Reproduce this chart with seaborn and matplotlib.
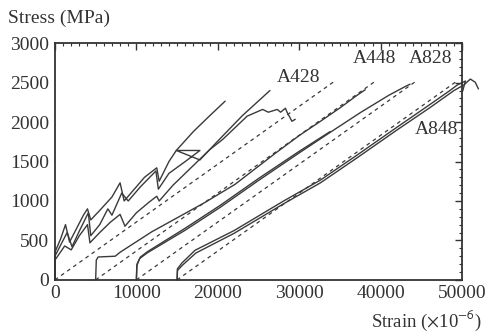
import numpy as np
import pandas as pd
import matplotlib
matplotlib.use("Agg")
import matplotlib.pyplot as plt
import seaborn as sns
from matplotlib.ticker import MultipleLocator

# strain (x1e-6) / stress (MPa)
a1_x = [0, 0, 700, 1300, 1800, 2600, 3500, 4000, 4400, 5500, 7000, 8000, 8500, 9500, 11000, 12500, 12800, 14000, 14900, 17000, 19000, 20900]
a1_y = [0, 350, 520, 700, 480, 640, 820, 900, 760, 880, 1050, 1230, 1000, 1120, 1300, 1420, 1250, 1500, 1640, 1880, 2080, 2265]

a2_x = [0, 0, 900, 1500, 2100, 3000, 4100, 4400, 5500, 6500, 7000, 8200, 9000, 10500, 12400, 12700, 14000, 16000, 17800, 14900, 17800, 20000, 23000, 26400]
a2_y = [0, 300, 480, 600, 420, 620, 850, 560, 700, 900, 820, 1100, 1000, 1180, 1380, 1150, 1350, 1500, 1640, 1640, 1520, 1760, 2080, 2400]

a3_x = [0, 0, 1200, 2000, 3000, 4000, 4300, 5500, 6800, 8000, 8600, 10000, 11500, 12500, 12800, 14500, 16500, 19000, 20600, 23600, 25500, 26200, 27300, 27700, 28300, 28500, 29100, 29500]
a3_y = [0, 250, 430, 380, 560, 700, 470, 600, 730, 830, 680, 850, 980, 1060, 1000, 1200, 1400, 1650, 1780, 2075, 2160, 2125, 2160, 2125, 2175, 2125, 2010, 2035]

b_x = [5000, 5080, 5300, 7400, 8000, 11900, 18400, 22100, 27000, 30000, 32600, 35000, 37100, 38100]
b_y = [0, 250, 290, 300, 350, 610, 980, 1210, 1600, 1830, 2010, 2180, 2340, 2410]

c1_x = [10000, 10050, 10400, 11300, 16000, 20300, 25000, 30000, 33800, 37500, 41000, 43000, 43600]
c1_y = [0, 180, 270, 340, 630, 920, 1260, 1610, 1870, 2120, 2340, 2450, 2480]
c2_x = [10000, 10080, 10500, 11400, 16000, 20300, 25000, 30000, 33800]
c2_y = [0, 200, 290, 360, 655, 945, 1285, 1630, 1880]

d1_x = [15000, 15040, 15600, 17200, 22000, 28000, 32600, 37000, 42000, 46000, 48500, 49400, 50000, 50400, 50050]
d1_y = [0, 140, 215, 375, 625, 995, 1265, 1575, 1935, 2220, 2400, 2470, 2500, 2520, 2390]
d2_x = [15000, 15050, 15700, 17300, 22000, 28000, 32600, 37000, 42000, 46000, 49000, 50200, 51000, 51600, 52000]
d2_y = [0, 120, 190, 340, 590, 960, 1230, 1540, 1900, 2180, 2400, 2470, 2545, 2505, 2420]

# reference (dashed) lines
ref_start = [0, 5000, 10000, 15000]
ref_len = 34500
ref_top = 2530

labels = ["A428", "A448", "A828", "A848"]
label_x = [27200, 36600, 43400, 44200]
label_y = [2560, 2800, 2800, 1910]

line_col = "#3a3a3a"
sns.set_style("white")
plt.rcParams["font.family"] = ["Liberation Serif", "DejaVu Serif"]
plt.rcParams["font.size"] = 14
plt.rcParams["mathtext.fontset"] = "stix"

fig = plt.figure(figsize=(4.86, 3.32), dpi=100)
ax = fig.add_axes([0.113, 0.157, 0.838, 0.713])

curves = [(a1_x, a1_y), (a2_x, a2_y), (a3_x, a3_y), (b_x, b_y),
          (c1_x, c1_y), (c2_x, c2_y), (d1_x, d1_y), (d2_x, d2_y)]
for cx, cy in curves:
    df = pd.DataFrame({"strain": cx, "stress": cy})
    sns.lineplot(data=df, x="strain", y="stress", sort=False, estimator=None,
                 color=line_col, lw=1.0, ax=ax, clip_on=False)

for s in ref_start:
    df = pd.DataFrame({"strain": [s, s + ref_len], "stress": [0, ref_top]})
    sns.lineplot(data=df, x="strain", y="stress", color=line_col, lw=0.9,
                 ls=(0, (3, 3)), ax=ax)

for t, x, y in zip(labels, label_x, label_y):
    ax.text(x, y, t, ha="left", va="center", fontsize=14, color="#333333")

ax.set_xlim(0, 50000)
ax.set_ylim(0, 3000)
ax.xaxis.set_major_locator(MultipleLocator(10000))
ax.xaxis.set_minor_locator(MultipleLocator(1000))
ax.yaxis.set_major_locator(MultipleLocator(500))
ax.yaxis.set_minor_locator(MultipleLocator(100))
ax.tick_params(which="both", direction="in", top=True, right=True, colors="#333333",
               labelsize=14, pad=4)
ax.tick_params(which="major", length=5, width=1)
ax.tick_params(which="minor", length=2.5, width=0.8)
for sp in ax.spines.values():
    sp.set_color("#333333")
    sp.set_linewidth(1.3)
ax.set_xlabel("")
ax.set_ylabel("")

fig.text(8 / 486, 1 - 18 / 332, "Stress (MPa)", ha="left", va="center", fontsize=14, color="#333333")
fig.text(482 / 486, 1 - 321 / 332, r"Strain ($\times$10$^{\mathsf{-6}}$)", ha="right", va="center",
         fontsize=13.5, color="#333333")

fig.savefig("out.png", dpi=100)
